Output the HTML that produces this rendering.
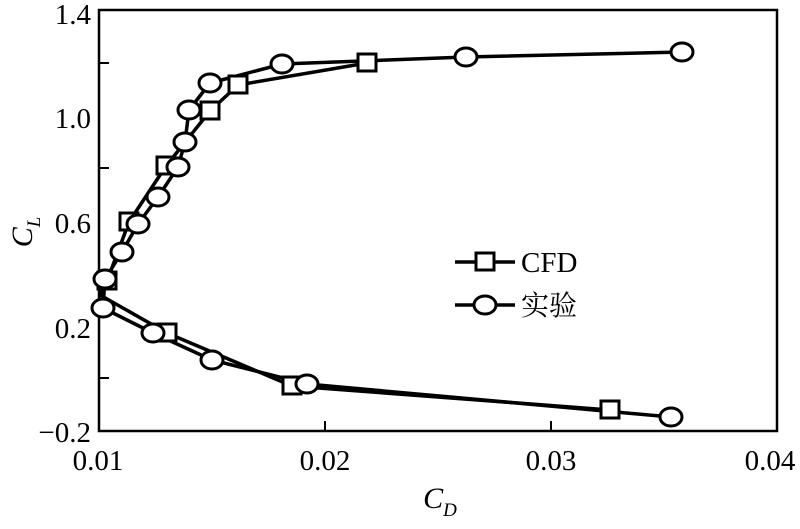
<!DOCTYPE html>
<html><head><meta charset="utf-8"><style>body{margin:0;background:#fff}</style></head><body>
<svg width="800" height="524" xmlns="http://www.w3.org/2000/svg" font-family="'Liberation Serif','Noto Serif CJK SC',serif">
<rect x="99" y="10" width="678" height="421" fill="none" stroke="#000" stroke-width="2.5"/>
<g stroke="#000" stroke-width="2">
<line x1="99" y1="63" x2="109" y2="63"/><line x1="99" y1="168" x2="109" y2="168"/>
<line x1="99" y1="273" x2="109" y2="273"/><line x1="99" y1="378" x2="109" y2="378"/>
<line x1="325" y1="431" x2="325" y2="421"/><line x1="551" y1="431" x2="551" y2="421"/>
</g>
<g font-size="29" text-anchor="end">
<text x="91" y="24">1.4</text><text x="91" y="128">1.0</text><text x="91" y="233">0.6</text>
<text x="91" y="338">0.2</text><text x="91" y="442">−0.2</text>
</g>
<g font-size="29" text-anchor="middle">
<text x="98" y="470">0.01</text><text x="325" y="470">0.02</text><text x="551" y="470">0.03</text><text x="770" y="470">0.04</text>
</g>
<text x="440" y="508" font-size="30" font-style="italic" text-anchor="middle">C<tspan font-size="19" dy="8">D</tspan></text>
<text transform="translate(32,232) rotate(-90)" font-size="30" font-style="italic" text-anchor="middle">C<tspan font-size="19" dy="8">L</tspan></text>
<g fill="none" stroke="#000" stroke-width="3.5" stroke-linejoin="round">
<polyline points="367,63 238,85 210,111 166,166 129,222 107,281 100,295 167,333 292,386 610,410"/>
<polyline points="682,52 466,57 282,64 210,83 189,110 185,142 178,167 158,197 138,224 122,252 105,279 103,308 153,333 212,360 307,384 671,417"/>
<line x1="455" y1="262" x2="515" y2="262"/><line x1="455" y1="305" x2="515" y2="305"/>
</g>
<g fill="#fff" stroke="#000" stroke-width="3">
<rect x="358" y="54" width="18" height="17"/><rect x="229" y="76" width="18" height="17"/>
<rect x="201" y="102" width="18" height="17"/><rect x="157" y="157" width="18" height="17"/>
<rect x="120" y="213" width="18" height="17"/><rect x="98" y="272" width="18" height="17"/>
<rect x="158" y="324" width="18" height="17"/><rect x="283" y="377" width="18" height="17"/>
<rect x="601" y="401" width="18" height="17"/><rect x="476" y="253" width="18" height="17"/>
</g>
<g fill="#fff" stroke="#000" stroke-width="3">
<ellipse cx="682" cy="52" rx="11" ry="9"/><ellipse cx="466" cy="57" rx="11" ry="9"/>
<ellipse cx="282" cy="64" rx="11" ry="9"/><ellipse cx="210" cy="83" rx="11" ry="9"/>
<ellipse cx="189" cy="110" rx="11" ry="9"/><ellipse cx="185" cy="142" rx="11" ry="9"/>
<ellipse cx="178" cy="167" rx="11" ry="9"/><ellipse cx="158" cy="197" rx="11" ry="9"/>
<ellipse cx="138" cy="224" rx="11" ry="9"/><ellipse cx="122" cy="252" rx="11" ry="9"/>
<ellipse cx="105" cy="279" rx="11" ry="9"/><ellipse cx="103" cy="308" rx="11" ry="9"/>
<ellipse cx="153" cy="333" rx="11" ry="9"/><ellipse cx="212" cy="360" rx="11" ry="9"/>
<ellipse cx="307" cy="384" rx="11" ry="9"/><ellipse cx="671" cy="417" rx="11" ry="9"/>
<ellipse cx="485" cy="305" rx="11" ry="9"/>
</g>
<text x="521" y="272" font-size="29">CFD</text>
<text x="521" y="315" font-size="28">实验</text>
</svg>
</body></html>
